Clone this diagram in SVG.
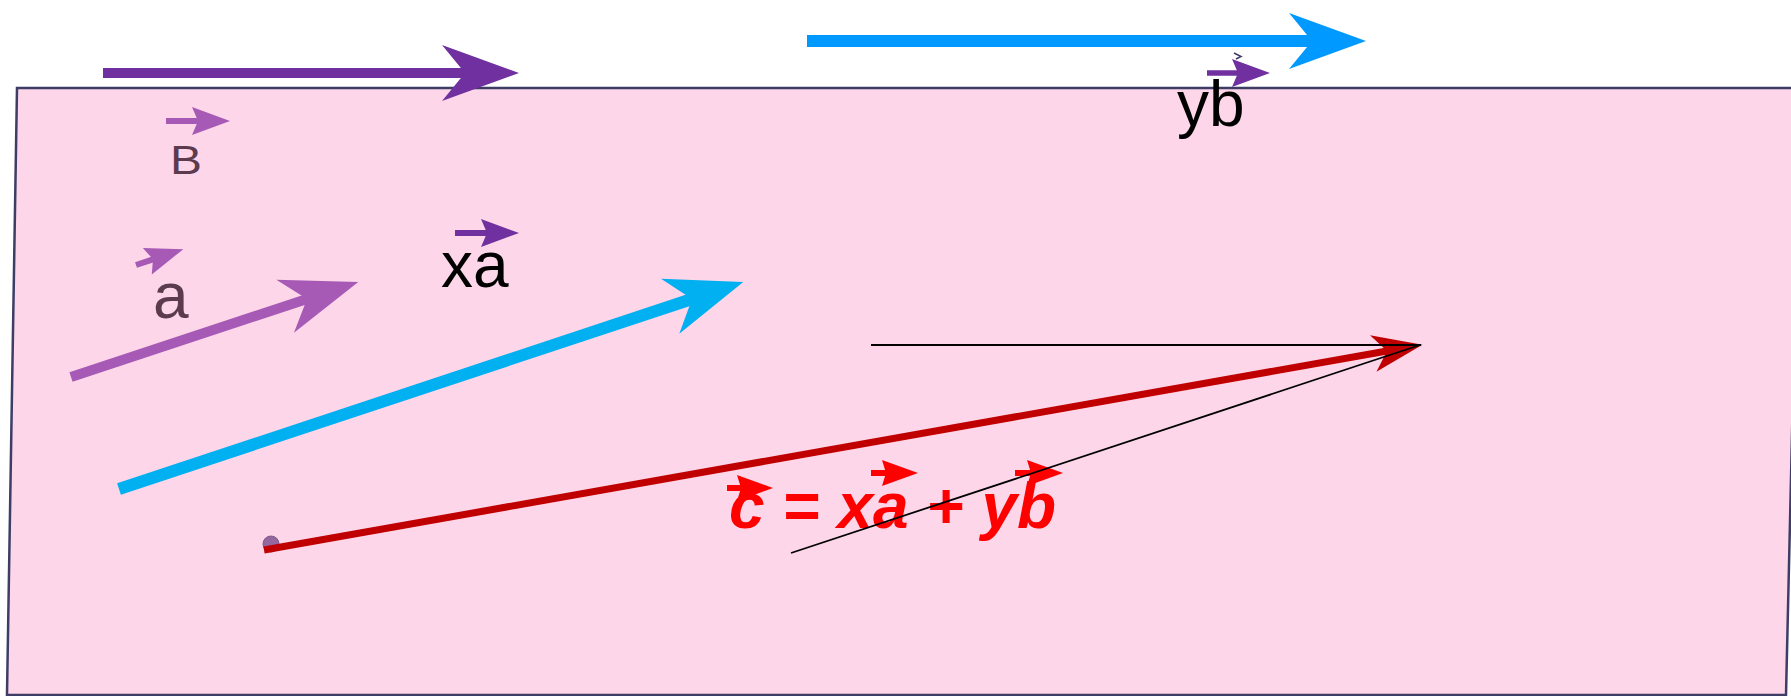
<svg xmlns="http://www.w3.org/2000/svg" width="1791" height="696" viewBox="0 0 1791 696">
<style>
.lbl{font-family:"Liberation Sans",Arial,sans-serif;}
.dark{fill:#5C3B4F;font-size:64px;}
.blk{fill:#000000;font-size:64px;}
.formula{fill:#FF0000;font-size:65px;font-weight:bold;font-style:italic;}
.shaft{fill:none;stroke-linecap:butt;}
</style>
<defs>
<marker id="hPurple" viewBox="-25 -30 82 60" refX="0" refY="0" markerWidth="82" markerHeight="60" markerUnits="userSpaceOnUse" orient="auto"><path d="M54,0 L-23,-28 L0,0 L-23,28 Z" fill="#7030A0"/></marker>
<marker id="hLilac" viewBox="-25 -30 82 60" refX="0" refY="0" markerWidth="82" markerHeight="60" markerUnits="userSpaceOnUse" orient="auto"><path d="M54,0 L-23,-28 L0,0 L-23,28 Z" fill="#A65AB5"/></marker>
<marker id="hSky" viewBox="-25 -30 82 60" refX="0" refY="0" markerWidth="82" markerHeight="60" markerUnits="userSpaceOnUse" orient="auto"><path d="M54,0 L-23,-29 L0,0 L-23,29 Z" fill="#00B0F0"/></marker>
<marker id="hBlue" viewBox="-25 -30 82 60" refX="0" refY="0" markerWidth="82" markerHeight="60" markerUnits="userSpaceOnUse" orient="auto"><path d="M54,0 L-23,-28 L0,0 L-23,28 Z" fill="#0099FF"/></marker>
<marker id="hRed" viewBox="-16 -20 54 40" refX="0" refY="0" markerWidth="54" markerHeight="40" markerUnits="userSpaceOnUse" orient="auto"><path d="M36,0 L-14,-18.5 L0,0 L-14,18.5 Z" fill="#C00000"/></marker>
<marker id="sLilac" viewBox="-8 -15 42 30" refX="0" refY="0" markerWidth="42" markerHeight="30" markerUnits="userSpaceOnUse" orient="auto"><path d="M32,0 L-6,-14 L0,0 L-6,14 Z" fill="#A65AB5"/></marker>
<marker id="sPurple" viewBox="-8 -15 42 30" refX="0" refY="0" markerWidth="42" markerHeight="30" markerUnits="userSpaceOnUse" orient="auto"><path d="M32,0 L-6,-14 L0,0 L-6,14 Z" fill="#7030A0"/></marker>
<marker id="sRed" viewBox="-8 -15 42 30" refX="0" refY="0" markerWidth="42" markerHeight="30" markerUnits="userSpaceOnUse" orient="auto"><path d="M32,0 L-4,-13 L0,0 L-4,13 Z" fill="#FF0000"/></marker>
</defs>

<g id="plane">
<polygon points="17,88 1800,88 1786,695 7,695" fill="#FDD6E9" stroke="#3D3D66" stroke-width="2.5"/>
</g>

<g id="origin-dot">
<circle cx="271" cy="544" r="8" fill="#94689E" stroke="#7E5A8B" stroke-width="1"/>
</g>

<g id="connectors">
<line id="vec-B" class="shaft" x1="103" y1="73" x2="465" y2="73" stroke="#7030A0" stroke-width="10" marker-end="url(#hPurple)"/>
<line id="vec-yb-top" class="shaft" x1="807" y1="41" x2="1312" y2="41" stroke="#0099FF" stroke-width="12" marker-end="url(#hBlue)"/>
<line id="vec-a" class="shaft" x1="71" y1="377" x2="307" y2="299" stroke="#A65AB5" stroke-width="10" marker-end="url(#hLilac)"/>
<line id="vec-xa" class="shaft" x1="119" y1="489" x2="692" y2="299" stroke="#00B0F0" stroke-width="12" marker-end="url(#hSky)"/>
<line id="vec-c" class="shaft" x1="264" y1="550" x2="1387" y2="351" stroke="#C00000" stroke-width="7" marker-end="url(#hRed)"/>
<line id="guide-h" x1="871" y1="345" x2="1421" y2="345" stroke="#000000" stroke-width="2"/>
</g>

<g id="label-B">
<line class="shaft" x1="166" y1="121" x2="198" y2="121" stroke="#A65AB5" stroke-width="6" marker-end="url(#sLilac)"/>
<text class="lbl dark" x="170" y="174" style="font-size:41px" textLength="32" lengthAdjust="spacingAndGlyphs">B</text>
</g>

<g id="label-a">
<line class="shaft" x1="136" y1="265" x2="153" y2="259.3" stroke="#A65AB5" stroke-width="6" marker-end="url(#sLilac)"/>
<text class="lbl dark" x="153" y="318">a</text>
</g>

<g id="label-xa">
<line class="shaft" x1="455" y1="233" x2="487" y2="233" stroke="#7030A0" stroke-width="6" marker-end="url(#sPurple)"/>
<text class="lbl blk" x="441" y="287">xa</text>
</g>

<g id="label-yb">
<path d="M1234,53 L1241,56.5 L1236,59" fill="none" stroke="#3D3D66" stroke-width="1.5"/>
<line class="shaft" x1="1207" y1="73" x2="1238" y2="73" stroke="#7030A0" stroke-width="5.5" marker-end="url(#sPurple)"/>
<text class="lbl blk" x="1177" y="126">yb</text>
</g>

<g id="label-formula">
<text class="lbl formula" x="729" y="528" textLength="327" lengthAdjust="spacingAndGlyphs">c = xa + yb</text>
<line class="shaft" x1="727" y1="488" x2="741" y2="488" stroke="#FF0000" stroke-width="6" marker-end="url(#sRed)"/>
<line class="shaft" x1="871" y1="473" x2="886" y2="473" stroke="#FF0000" stroke-width="6" marker-end="url(#sRed)"/>
<line class="shaft" x1="1015" y1="473" x2="1031" y2="473" stroke="#FF0000" stroke-width="6" marker-end="url(#sRed)"/>
</g>

<g id="guide-diagonal">
<line x1="791" y1="553" x2="1420" y2="345" stroke="#000000" stroke-width="1.8"/>
</g>
</svg>
